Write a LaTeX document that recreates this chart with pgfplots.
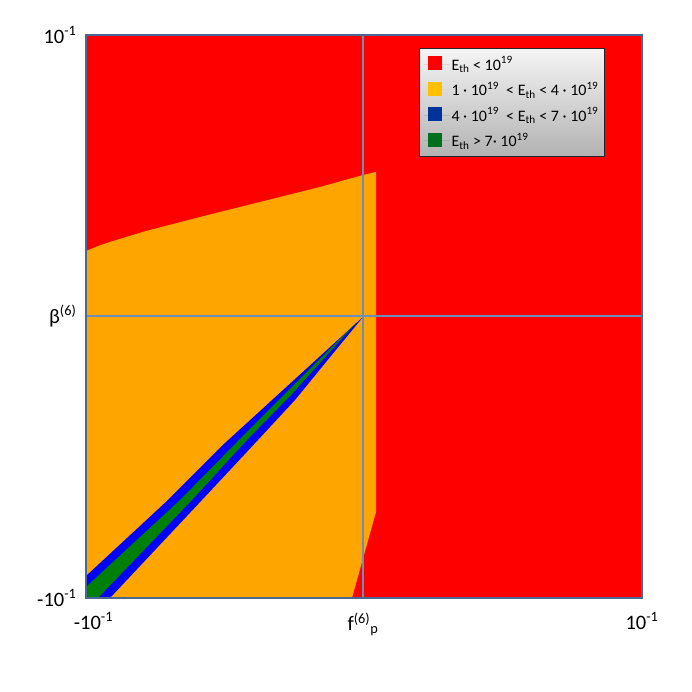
\documentclass[border=0pt]{standalone}
\usepackage{pgfplots}
\pgfplotsset{compat=1.18}
\usepackage{fontspec}
\setmainfont{Carlito}

\definecolor{framec}{RGB}{74,104,145}
\definecolor{gridc}{RGB}{108,142,186}
\definecolor{regred}{RGB}{255,0,0}
\definecolor{regorange}{RGB}{255,165,0}
\definecolor{regblue}{RGB}{0,0,255}
\definecolor{reggreen}{RGB}{0,128,0}
\definecolor{legyellow}{RGB}{255,192,0}
\definecolor{legblue}{RGB}{0,51,153}
\definecolor{leggreen}{RGB}{0,112,30}

\begin{document}
\begin{tikzpicture}
\useasboundingbox (-86pt,-94pt) rectangle (606pt,598pt);
\begin{axis}[
    at={(0pt,0pt)}, anchor=south west,
    scale only axis, width=556pt, height=563pt,
    xmin=0, xmax=556, ymin=0, ymax=563,
    axis on top,
    axis line style={draw=framec, line width=2pt},
    xtick={0,277,556}, ytick={0,282,563},
    xticklabels={\hspace*{15pt}-10\textsuperscript{-1}, f\textsuperscript{(6)}\textsubscript{p}, 10\textsuperscript{-1}},
    yticklabels={-10\textsuperscript{-1}, β\textsuperscript{(6)}, 10\textsuperscript{-1}},
    major tick length=0pt,
    grid=major,
    grid style={draw=gridc, line width=1.5pt},
    tick label style={font=\fontsize{20.5}{24}\selectfont},
    xticklabel style={yshift=-11pt},
    yticklabel style={xshift=-6pt},
    legend style={at={(axis cs:333,550)}, anchor=north west,
        draw=black!85, line width=1pt,
        top color=white!96!black, bottom color=black!30,
        font=\fontsize{16}{18}\selectfont,
        row sep=6.5pt, inner xsep=4pt, inner ysep=6pt,
        cells={anchor=west}},
    legend image code/.code={
        \path (-4pt,0pt) -- (22pt,0pt);
        \fill[#1] (0pt,-6pt) rectangle (14pt,8pt);},
]

% background region E_th < 10^19
\addplot[fill=regred, draw=none, forget plot]
coordinates {(0,0) (556,0) (556,563) (0,563)} -- cycle;

% 1e19 < E_th < 4e19
\addplot[fill=regorange, draw=none, forget plot]
coordinates {
    (0,0) (266,0) (290,86) (290,426) (277,423) (234,411)
    (174,396) (114,381) (60,367) (27,357) (12,352) (0,347)
} -- cycle;

% 4e19 < E_th < 7e19
\addplot[fill=regblue, draw=none, forget plot]
coordinates {
    (0,0) (0,22) (82,98) (139,155) (277,281)
    (240,236) (209,198) (172,158) (116,98) (24,0)
} -- cycle;

% E_th > 7e19
\addplot[fill=reggreen, draw=none, forget plot]
coordinates {
    (0,0) (0,11) (94,98) (151,156) (270,275)
    (205,203) (161,158) (106,98) (12,0)
} -- cycle;

\addlegendimage{fill=regred, draw=none}
\addlegendentry{E\textsubscript{th} < 10\textsuperscript{19}}
\addlegendimage{fill=legyellow, draw=none}
\addlegendentry{1 · 10\textsuperscript{19} \ < E\textsubscript{th} < 4 · 10\textsuperscript{19}}
\addlegendimage{fill=legblue, draw=none}
\addlegendentry{4 · 10\textsuperscript{19} \ < E\textsubscript{th} < 7 · 10\textsuperscript{19}}
\addlegendimage{fill=leggreen, draw=none}
\addlegendentry{E\textsubscript{th} > 7· 10\textsuperscript{19}}

\end{axis}
\end{tikzpicture}
\end{document}
